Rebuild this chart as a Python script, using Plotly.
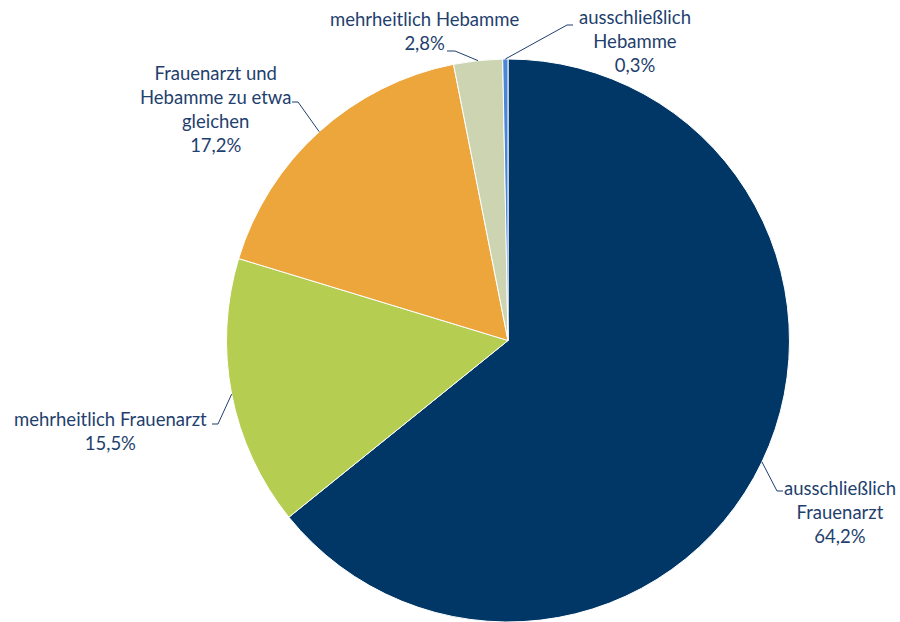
import math
import plotly.graph_objects as go

labels = ["ausschließlich Frauenarzt", "mehrheitlich Frauenarzt",
          "Frauenarzt und Hebamme zu etwa gleichen", "mehrheitlich Hebamme",
          "ausschließlich Hebamme"]
values = [64.2, 15.5, 17.2, 2.8, 0.3]
label_texts = ["ausschließlich<br>Frauenarzt<br>64,2%",
               "mehrheitlich Frauenarzt<br>15,5%",
               "Frauenarzt und<br>Hebamme zu etwa<br>gleichen<br>17,2%",
               "mehrheitlich Hebamme<br>2,8%",
               "ausschließlich<br>Hebamme<br>0,3%"]
colors = ["#003767", "#b5cd51", "#eca63c", "#cdd4b2", "#4a86d6"]

W, H = 900, 622
TXT = "#1f3f6e"
FONT = "Lato"

# pie geometry (pixels)
cx, cy, R = 508, 340.5, 281.5
dom_x = [(cx - R) / W, (cx + R) / W]
dom_y = [1 - (cy + R) / H, 1 - (cy - R) / H]

fig = go.Figure(go.Pie(
    labels=labels, values=values, sort=False, direction="clockwise", rotation=0,
    marker=dict(colors=colors, line=dict(color="white", width=1)),
    textinfo="none", hoverinfo="label+percent", showlegend=False,
    domain=dict(x=dom_x, y=dom_y),
))

# label layout: text center (px), leader elbow (px), leader end (px)
label_pos = [
    dict(tx=840, ty=512, elbow=(777, 491), end=(783, 491)),
    dict(tx=110, ty=431, elbow=(218, 424), end=(212, 424)),
    dict(tx=215, ty=109, elbow=(298, 102), end=(292, 102)),
    dict(tx=424, ty=31, elbow=(455, 51), end=(447, 51)),
    dict(tx=635, ty=41, elbow=(567, 25), end=(573, 25)),
]

def px(x, y):
    return x / W, 1 - y / H

total = sum(values)
cum = 0.0
for v, txt, lp in zip(values, label_texts, label_pos):
    mid = (cum + v / 2) / total * 2 * math.pi
    cum += v
    sx = cx + R * math.sin(mid)
    sy = cy - R * math.cos(mid)
    p0 = px(sx, sy)
    p1 = px(*lp["elbow"])
    p2 = px(*lp["end"])
    fig.add_shape(type="path", xref="paper", yref="paper",
                  path=f"M {p0[0]} {p0[1]} L {p1[0]} {p1[1]} L {p2[0]} {p2[1]}",
                  line=dict(color=TXT, width=1))
    ax, ay = px(lp["tx"], lp["ty"])
    fig.add_annotation(x=ax, y=ay, xref="paper", yref="paper", text=txt,
                       showarrow=False, xanchor="center", yanchor="middle",
                       align="center", font=dict(family=FONT, size=18.5, color=TXT))

fig.update_layout(width=W, height=H, margin=dict(l=0, r=0, t=0, b=0),
                  paper_bgcolor="white", plot_bgcolor="white")
fig.write_html("out.html", config={"displayModeBar": False},
               post_script="document.body.style.margin='0';document.body.style.overflow='hidden';")
